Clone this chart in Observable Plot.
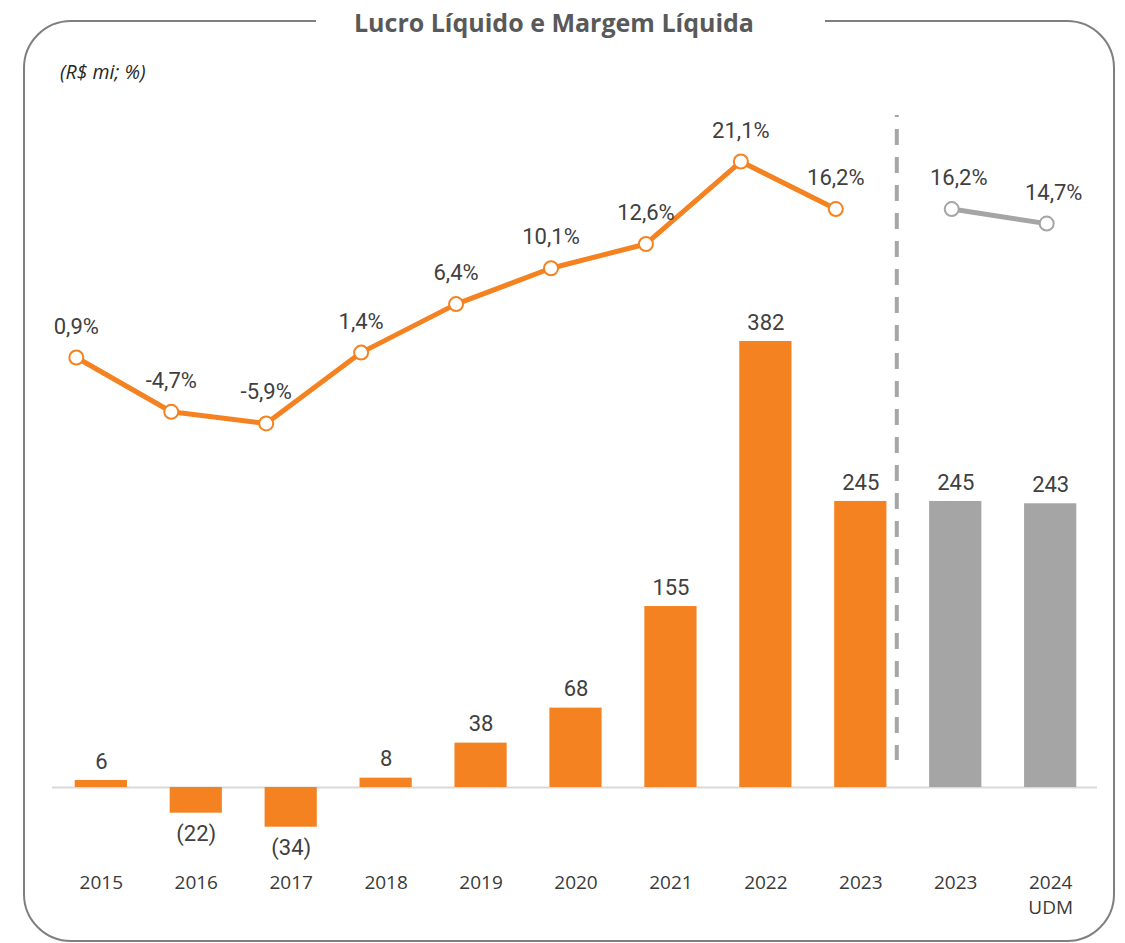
<!DOCTYPE html>
<html>
<head>
<meta charset="utf-8">
<script src="https://cdn.jsdelivr.net/npm/d3@7"></script>
<script src="https://cdn.jsdelivr.net/npm/@observablehq/plot@0.6"></script>
<style>
  html, body { margin: 0; padding: 0; background: #fff; }
  #wrap { position: relative; width: 1125px; height: 943px; overflow: hidden; background: #fff; }
  #chart { position: absolute; left: 0; top: 0; }
  #frame { position: absolute; left: 23px; top: 20px; width: 1092px; height: 922px; box-sizing: border-box;
           border: 2px solid #7f7f7f; border-radius: 48px; }
  #title { position: absolute; left: 316px; top: 5px; width: 509px; height: 34px; background: #fff; box-sizing: border-box;
           padding-left: 38px; font-family: "Open Sans", Lato, sans-serif; font-weight: 700; font-size: 25px;
           color: #595959; line-height: 34px; white-space: nowrap; }
  #subtitle { position: absolute; left: 60px; top: 59px; font-family: "Open Sans", Lato, sans-serif; font-style: italic;
              font-size: 19.5px; color: #262626; line-height: 26px; }
</style>
</head>
<body>
<div id="wrap">
  <div id="chart"></div>
  <div id="frame"></div>
  <div id="title">Lucro Líquido e Margem Líquida</div>
  <div id="subtitle">(R$ mi; %)</div>
</div>
<script>
const categories = ["2015","2016","2017","2018","2019","2020","2021","2022","2023","2023","2024\nUDM"];
const profit = [6, -22, -34, 8, 38, 68, 155, 382, 245, 245, 243];
const profitLabels = ["6","(22)","(34)","8","38","68","155","382","245","245","243"];
const margin = [0.9, -4.7, -5.9, 1.4, 6.4, 10.1, 12.6, 21.1, 16.2, 16.2, 14.7];
const series = ["hist","hist","hist","hist","hist","hist","hist","hist","hist","udm","udm"];

const ORANGE = "#F58220";
const GRAY = "#A5A5A5";
const TEXT = "#404040";
const NUMFONT = "Roboto, 'Liberation Sans', sans-serif";

// secondary (percent) axis expressed in primary (R$ mi) units
const pxPerMi = 1.1675, pxPerPct = 9.7, pctZeroAboveBarZero = 421.3;
const pctToMi = p => (pctZeroAboveBarZero + p * pxPerPct) / pxPerMi;

const rows = categories.map((c, i) => ({
  key: i + "|" + c,
  label: c,
  profit: profit[i],
  plabel: profitLabels[i],
  margin: margin[i],
  mlabel: margin[i].toFixed(1).replace(".", ",") + "%",
  mv: pctToMi(margin[i]),
  series: series[i]
}));
const hist = rows.filter(d => d.series === "hist");
const udm = rows.filter(d => d.series === "udm");
const keys = rows.map(d => d.key);

const chart = Plot.plot({
  width: 1125,
  height: 943,
  marginLeft: 52,
  marginRight: 28,
  marginTop: 115,
  marginBottom: 183,
  style: { background: "transparent", overflow: "visible" },
  x: { type: "band", domain: keys, range: [32, 1119], padding: 0.45, round: false, axis: null },
  y: { domain: [0, 382], range: [787, 787 - 382 * pxPerMi], axis: null },
  color: { domain: ["hist", "udm"], range: [ORANGE, GRAY] },
  marks: [
    Plot.ruleY([0], { stroke: "#D9D9D9", strokeWidth: 2 }),
    Plot.barY(rows, { x: "key", y: "profit", fill: "series" }),
    Plot.ruleX([keys[8]], { stroke: "#A6A6A6", strokeWidth: 4, strokeDasharray: "16,12", strokeDashoffset: 14, dx: 36 }),
    Plot.text(rows.filter(d => d.profit >= 0), { x: "key", y: "profit", text: "plabel", dy: -19, fontSize: 22, fontFamily: NUMFONT, fill: TEXT, lineAnchor: "middle" }),
    Plot.text(rows.filter(d => d.profit < 0), { x: "key", y: "profit", text: "plabel", dy: 21, fontSize: 22, fontFamily: NUMFONT, fill: TEXT, lineAnchor: "middle" }),
    Plot.line(hist, { x: "key", y: "mv", stroke: ORANGE, strokeWidth: 5, dx: -25 }),
    Plot.dot(hist, { x: "key", y: "mv", r: 7, fill: "white", stroke: ORANGE, strokeWidth: 2, dx: -25 }),
    Plot.text(hist, { x: "key", y: "mv", text: "mlabel", dx: -25, dy: -31, fontSize: 22, fontFamily: NUMFONT, fill: TEXT, lineAnchor: "middle" }),
    Plot.line(udm, { x: "key", y: "mv", stroke: GRAY, strokeWidth: 5, dx: -4 }),
    Plot.dot(udm, { x: "key", y: "mv", r: 7, fill: "white", stroke: GRAY, strokeWidth: 2, dx: -4 }),
    Plot.text(udm, { x: "key", y: "mv", text: "mlabel", dx: 3, dy: -31, fontSize: 22, fontFamily: NUMFONT, fill: TEXT, lineAnchor: "middle" }),
    Plot.text(rows, { x: "key", text: "label", frameAnchor: "bottom", dy: 111, lineAnchor: "top", lineHeight: 1.32,
                      fontSize: 19, fontFamily: "'Open Sans', Lato, sans-serif", fill: "#3a3a3a" })
  ]
});
document.getElementById("chart").appendChild(chart);
</script>
</body>
</html>
